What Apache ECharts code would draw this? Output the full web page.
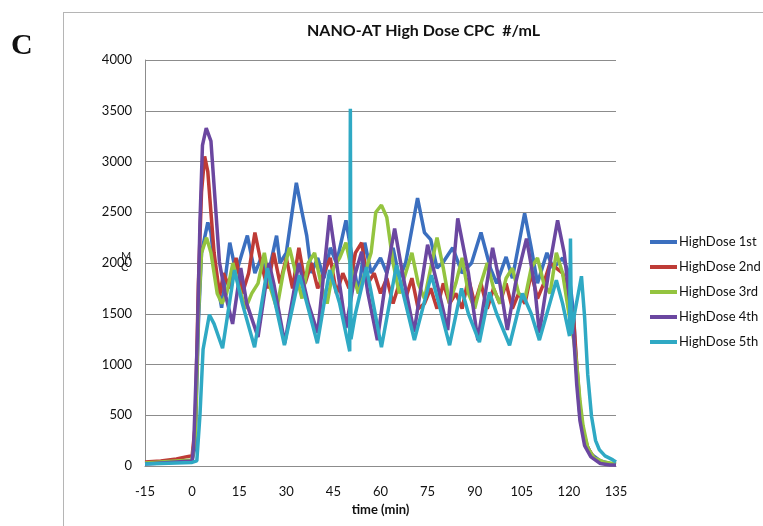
<!DOCTYPE html>
<html>
<head>
<meta charset="utf-8">
<script src="https://cdn.jsdelivr.net/npm/echarts@6/dist/echarts.min.js"></script>
<style>
  html, body { margin: 0; padding: 0; background: #fff; }
  #chart { width: 763px; height: 526px; }
</style>
</head>
<body>
<div id="chart"></div>
<script>
// [time (min), CPC #/mL]
const hd1 = [[-15,30],[-10,40],[-5,50],[0,50],[1,200],[2,1400],[3,2100],[5,2400],[6,2300],[7,2000],[9.4,1560],[12,2200],[14,1900],[17.6,2270],[20,1900],[22,2050],[24,1850],[26.9,2270],[28,2000],[30,2100],[33.2,2790],[35,2500],[36.5,2270],[38,1900],[40,2050],[42,1850],[44,2150],[46,2000],[49,2420],[51,2050],[53,1700],[55,2200],[57,1900],[60,2050],[62,1900],[64,2150],[66,1850],[68,2000],[71.8,2640],[74,2300],[76,2230],[78,1950],[80,2010],[83,2150],[86,1900],[89,2000],[92,2300],[95,1950],[97,1800],[100,2060],[102,1850],[105.9,2490],[108,2150],[110,1800],[113,2100],[115,1950],[118,2050],[120,1900],[121.5,1500],[122.5,900],[123.5,500],[125,250],[127,120],[130,50],[133,25],[135,20]];
const hd2 = [[-15,40],[-10,50],[-5,70],[-2,90],[0,100],[1,400],[2,1800],[3,2700],[4,3050],[5,2900],[6,2500],[7,2100],[8.8,1680],[10,1900],[12,1750],[14,2050],[16,1700],[18,1900],[20,2300],[22,2000],[24,1750],[26,2100],[28,1800],[30,2050],[32,1750],[34,2150],[36,1800],[38,2000],[40,1750],[42,1900],[44,2050],[46,1700],[48,1900],[50,1750],[52,2100],[54,2200],[56,1800],[58,1900],[60,1700],[62,1850],[64,1600],[66,1800],[68,1650],[70,1850],[72,1550],[74,1600],[76,1750],[78,1550],[80,1800],[82,1600],[84,1700],[86,1550],[88,1850],[90,1600],[92,1800],[94,1550],[96,1750],[98,1600],[100,1800],[102,1550],[104,1700],[106,1600],[108,1900],[110,1650],[112,1800],[114,2000],[116,1950],[118,1900],[119,1800],[120,1650],[121.5,1450],[122.5,1000],[123.5,600],[124.5,350],[126,180],[128,80],[131,30],[135,15]];
const hd3 = [[-15,30],[-10,40],[-5,50],[0,60],[1,300],[2,1500],[3,2100],[4.6,2250],[6,2100],[8,1700],[9.5,1600],[11,1700],[13,2000],[15,1750],[17,1550],[19,1700],[21,1800],[23,2100],[25,1750],[27,1550],[29,1900],[31,2150],[33,1900],[35,1650],[37,2000],[39,2100],[41,1800],[43,1600],[45,1950],[47,2050],[49,2200],[51,1900],[53,1700],[55,1900],[57,2100],[58.5,2500],[60.3,2570],[62,2450],[64,2000],[66,1700],[68,1900],[70,2100],[72,1800],[74,1650],[76,1950],[78,2250],[80,1950],[82,1600],[84,1800],[86,2050],[88,1700],[90,1550],[92,1800],[94,2000],[96,1750],[98,1600],[100,1850],[102,1950],[104,1700],[106,1650],[108,1950],[110,2050],[112,1800],[114,1700],[116,2100],[118,1900],[120,1500],[121.5,1250],[122.5,1000],[123.5,650],[124.5,400],[126,180],[128,80],[131,40],[135,20]];
const hd4 = [[-15,20],[-10,30],[-5,40],[0,50],[0.5,200],[1.7,1290],[2.5,2400],[3.3,3160],[4.5,3330],[6,3200],[8.7,2010],[10.5,1700],[12.9,1400],[15.5,1950],[17.4,1600],[21,1270],[24.5,2000],[26,1800],[29.5,1210],[34,2000],[37,1600],[40,1310],[43.8,2470],[46,2000],[49,1360],[52,1900],[54,2110],[56,1700],[59,1240],[62,1900],[64.5,2340],[67,1900],[70.7,1320],[75,2180],[78,1800],[81.4,1340],[84.6,2440],[88,1900],[91,1240],[95.7,2150],[98,1800],[100.4,1340],[103,1800],[106.5,2240],[109,1800],[110.6,1310],[114,2000],[116.4,2420],[118.5,2100],[120,1700],[121.5,1300],[122.5,800],[123.5,450],[125,200],[127,90],[130,25],[133,10],[135,10]];
const hd5 = [[-15,20],[-10,25],[-5,30],[0,35],[1.5,50],[2.5,500],[3.5,1150],[5.5,1490],[7,1400],[9.7,1160],[13.5,1930],[16,1600],[19.9,1170],[24,1950],[26.5,1600],[29.4,1190],[34.2,1880],[37,1550],[39.9,1210],[43.8,1930],[47,1600],[50.2,1130],[50.4,3520],[50.6,1250],[52,1500],[55.5,1960],[58,1550],[60.3,1170],[65.1,1980],[68,1600],[70.8,1240],[76.2,1880],[79,1550],[82,1190],[85.8,1750],[88,1500],[91.5,1220],[94.7,1710],[97,1500],[101.1,1190],[105.2,1700],[108,1500],[110.6,1240],[116,1830],[118,1600],[120.2,1280],[120.5,2240],[120.8,1300],[121.8,1500],[124,1870],[125,1470],[126,900],[127.2,490],[128.5,250],[129.7,160],[131.5,100],[134,60],[135,40]];

const names = ['HighDose 1st', 'HighDose 2nd', 'HighDose 3rd', 'HighDose 4th', 'HighDose 5th'];
const colors = ['#3b6fbf', '#be3b36', '#94c43f', '#6b47a0', '#2fa9c4'];
const allData = [hd1, hd2, hd3, hd4, hd5];

const xTicks = { min: -15, max: 135, step: 15 };
const yTicks = { min: 0, max: 4000, step: 500 };

const font = 'Lato, "Open Sans", sans-serif';
const chart = echarts.init(document.getElementById('chart'));

const option = {
  animation: false,
  backgroundColor: '#fff',
  title: {
    text: 'NANO-AT High Dose CPC  #/mL',
    left: 302,
    top: 18,
    textStyle: { fontFamily: font, fontSize: 16, fontWeight: 'bold', color: '#111' }
  },
  legend: {
    orient: 'vertical',
    left: 645,
    top: 229,
    icon: 'rect',
    itemWidth: 27,
    itemHeight: 4,
    itemGap: 9,
    data: names,
    textStyle: { fontFamily: font, fontSize: 13, color: '#111', lineHeight: 16, padding: [0, 0, 0, -3] }
  },
  grid: { left: 145, right: 147, top: 60, bottom: 60 },
  xAxis: {
    type: 'value',
    min: xTicks.min,
    max: xTicks.max,
    interval: xTicks.step,
    name: 'time (min)',
    nameLocation: 'middle',
    nameGap: 36,
    nameTextStyle: { fontFamily: font, fontSize: 13, fontWeight: 'bold', color: '#111' },
    axisLine: { show: true, onZero: false, lineStyle: { color: '#8c8c8c', width: 1 } },
    axisTick: { show: false },
    axisLabel: { fontFamily: font, fontSize: 13, color: '#111', margin: 19 },
    splitLine: { show: false }
  },
  yAxis: {
    type: 'value',
    min: yTicks.min,
    max: yTicks.max,
    interval: yTicks.step,
    axisLine: { show: true, onZero: false, lineStyle: { color: '#8c8c8c', width: 1 } },
    axisTick: { show: false },
    axisLabel: { fontFamily: font, fontSize: 13, color: '#111', margin: 13, formatter: v => String(v) },
    splitLine: { show: true, lineStyle: { color: '#8c8c8c', width: 1 } }
  },
  graphic: [
    { type: 'line', shape: { x1: 63, y1: 12.5, x2: 763, y2: 12.5 }, style: { stroke: '#b5b5b5', lineWidth: 1 } },
    { type: 'line', shape: { x1: 63.5, y1: 12, x2: 63.5, y2: 526 }, style: { stroke: '#b5b5b5', lineWidth: 1 } },
    { type: 'text', left: 11, top: 31, style: { text: 'C', font: 'bold 30px "Liberation Serif", serif', fill: '#111' } },
    { type: 'text', left: 121, top: 251, style: { text: 'M', font: '11px ' + font, fill: '#222' } },
    { type: 'text', left: 121, top: 262, style: { text: 'C', font: '11px ' + font, fill: '#222' } }
  ],
  series: allData.map((d, i) => ({
    name: names[i],
    type: 'line',
    data: d,
    showSymbol: false,
    symbol: 'none',
    lineStyle: { width: 3.5, color: colors[i] },
    itemStyle: { color: colors[i] },
    z: 2 + i
  }))
};

chart.setOption(option);
</script>
</body>
</html>
